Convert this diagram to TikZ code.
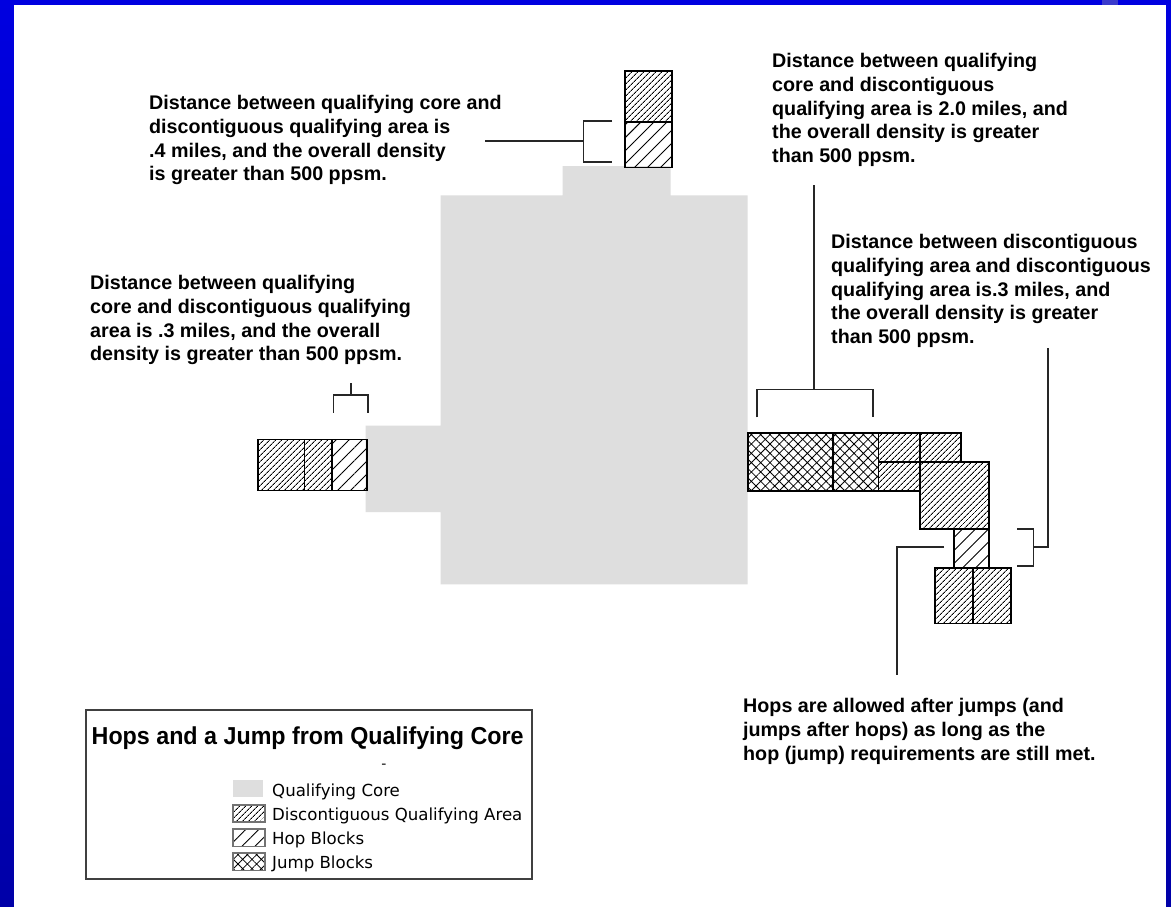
\documentclass[tikz,border=0pt]{standalone}
\usepackage{fontspec}
\setmainfont{Liberation Sans}
\newfontfamily\legfont{DejaVu Sans}
\usetikzlibrary{patterns.meta}
\definecolor{core}{HTML}{DEDEDE}
\definecolor{frametop}{HTML}{0000E0}
\definecolor{framebot}{HTML}{0000A8}
\definecolor{patch}{HTML}{3A3ACC}
\tikzset{
 blk/.style={draw=black,line width=1.6pt},
 dqa/.style={blk,pattern={Lines[angle=45,distance=4pt,line width=0.9pt]}},
 hopb/.style={blk,pattern={Lines[angle=45,distance=9.2pt,line width=0.9pt]}},
 jumpb/.style={blk,pattern={Hatch[angle=45,distance=6.6pt,line width=0.8pt]}},
 lead/.style={draw=black!85,line width=1.6pt},
 note/.style={anchor=north west,inner sep=0pt,align=left,font=\bfseries\fontsize{19.7}{23.8}\selectfont},
 leg/.style={anchor=base west,inner sep=0pt,font=\legfont\fontsize{16.6}{20}\selectfont},
 sw/.style={draw=black!55,line width=1.2pt}
}
\begin{document}
\begin{tikzpicture}[x=1pt,y=-1pt]
\useasboundingbox (0,0) rectangle (1171,906);
% frame
\shade[top color=frametop,bottom color=framebot] (0,0) rectangle (1171,906);
\fill[patch] (1102,0) rectangle (1118,5);
\fill[white] (14,5) rectangle (1166,912);
% qualifying core
\fill[core] (562.7,166) -- (670.7,166) -- (670.7,195.3) -- (747.7,195.3) -- (747.7,584.3)
  -- (440.7,584.3) -- (440.7,512) -- (365.7,512) -- (365.7,425.7) -- (440.7,425.7)
  -- (440.7,195.3) -- (562.7,195.3) -- cycle;
% top blocks
\path[dqa] (624.7,70.7) rectangle (671.7,121.7);
\path[hopb] (624.7,121.7) rectangle (671.7,167.3);
% left blocks
\path[dqa] (258,439.3) rectangle (304.3,490.3);
\path[dqa] (304.3,439.3) rectangle (331.7,490.3);
\path[hopb] (331.7,439.3) rectangle (366.7,490.3);
% right blocks
\path[jumpb] (748,432.7) rectangle (832.7,490.7);
\path[jumpb] (832.7,432.7) rectangle (878.3,490.7);
\path[dqa] (878.3,432.7) rectangle (920,462);
\path[dqa] (920,432.7) rectangle (960.7,462);
\path[dqa] (878.3,462) rectangle (920,490.7);
\path[dqa] (920,462) rectangle (988.7,528.7);
\path[hopb] (954,528.7) rectangle (988.7,568);
\path[dqa] (935,568) rectangle (972.7,623.3);
\path[dqa] (972.7,568) rectangle (1010.7,623.3);
% notes
\node[note] (ntl) at (149,95) {Distance between qualifying core and\\discontiguous qualifying area is\\.4 miles, and the overall density\\is greater than 500 ppsm.};
\node[note] (nl) at (90,275) {Distance between qualifying\\core and discontiguous qualifying\\area is .3 miles, and the overall\\density is greater than 500 ppsm.};
\node[note] (ntr) at (772,53) {Distance between qualifying\\core and discontiguous\\qualifying area is 2.0 miles, and\\the overall density is greater\\than 500 ppsm.};
\node[note] (nr) at (831,234) {Distance between discontiguous\\qualifying area and discontiguous\\qualifying area is.3 miles, and\\the overall density is greater\\than 500 ppsm.};
\node[note] (nbr) at (743,698) {Hops are allowed after jumps (and\\jumps after hops) as long as the\\hop (jump) requirements are still met.};
% brackets and leaders
\coordinate (tA) at (485,140.7);
\coordinate (tB) at (583.3,140.7);
\draw[lead] (612,120.7) -- (583.3,120.7) -- (583.3,161.7) -- (612,161.7);
\draw[lead] (tA) -- (tB);
\coordinate (lA) at (350.7,383);
\coordinate (lB) at (350.7,395);
\draw[lead] (333.3,412.7) -- (333.3,395) -- (368,395) -- (368,412.7);
\draw[lead] (lA) -- (lB);
\coordinate (trA) at (814,185);
\coordinate (trB) at (814,389.3);
\draw[lead] (756.7,417.3) -- (756.7,389.3) -- (873,389.3) -- (873,417.3);
\draw[lead] (trA) -- (trB);
\coordinate (rA) at (1048,348);
\coordinate (rB) at (1033.3,546.7);
\draw[lead] (1017.3,528.7) -- (1033.3,528.7) -- (1033.3,566) -- (1017.3,566);
\draw[lead] (rB) -| (rA);
\coordinate (bA) at (944,546.7);
\coordinate (bB) at (897,675);
\draw[lead] (bA) -| (bB);
% legend
\draw[draw=black!75,line width=1.8pt] (86,710) rectangle (532,879);
\node[anchor=base west,inner sep=0pt] (ltitle) at (91.5,744) {\scalebox{0.95}[1]{\bfseries\fontsize{24.5}{30}\selectfont Hops and a Jump from Qualifying Core}};
\node[inner sep=0pt,font=\legfont\fontsize{14}{16}\selectfont] (ldash) at (384,766) {-};
\fill[core] (233,780) rectangle (263,797);
\path[sw,pattern={Lines[angle=45,distance=4pt,line width=0.9pt]}] (233,805) rectangle (265,822);
\path[sw,pattern={Lines[angle=45,distance=9.2pt,line width=0.9pt]}] (233,829) rectangle (265,846.7);
\path[sw,pattern={Hatch[angle=45,distance=6.6pt,line width=0.8pt]}] (233,853) rectangle (265,870.7);
\node[leg] (l1) at (272,796) {Qualifying Core};
\node[leg] (l2) at (272,820) {Discontiguous Qualifying Area};
\node[leg] (l3) at (272,844) {Hop Blocks};
\node[leg] (l4) at (272,868.3) {Jump Blocks};
\end{tikzpicture}
\end{document}
